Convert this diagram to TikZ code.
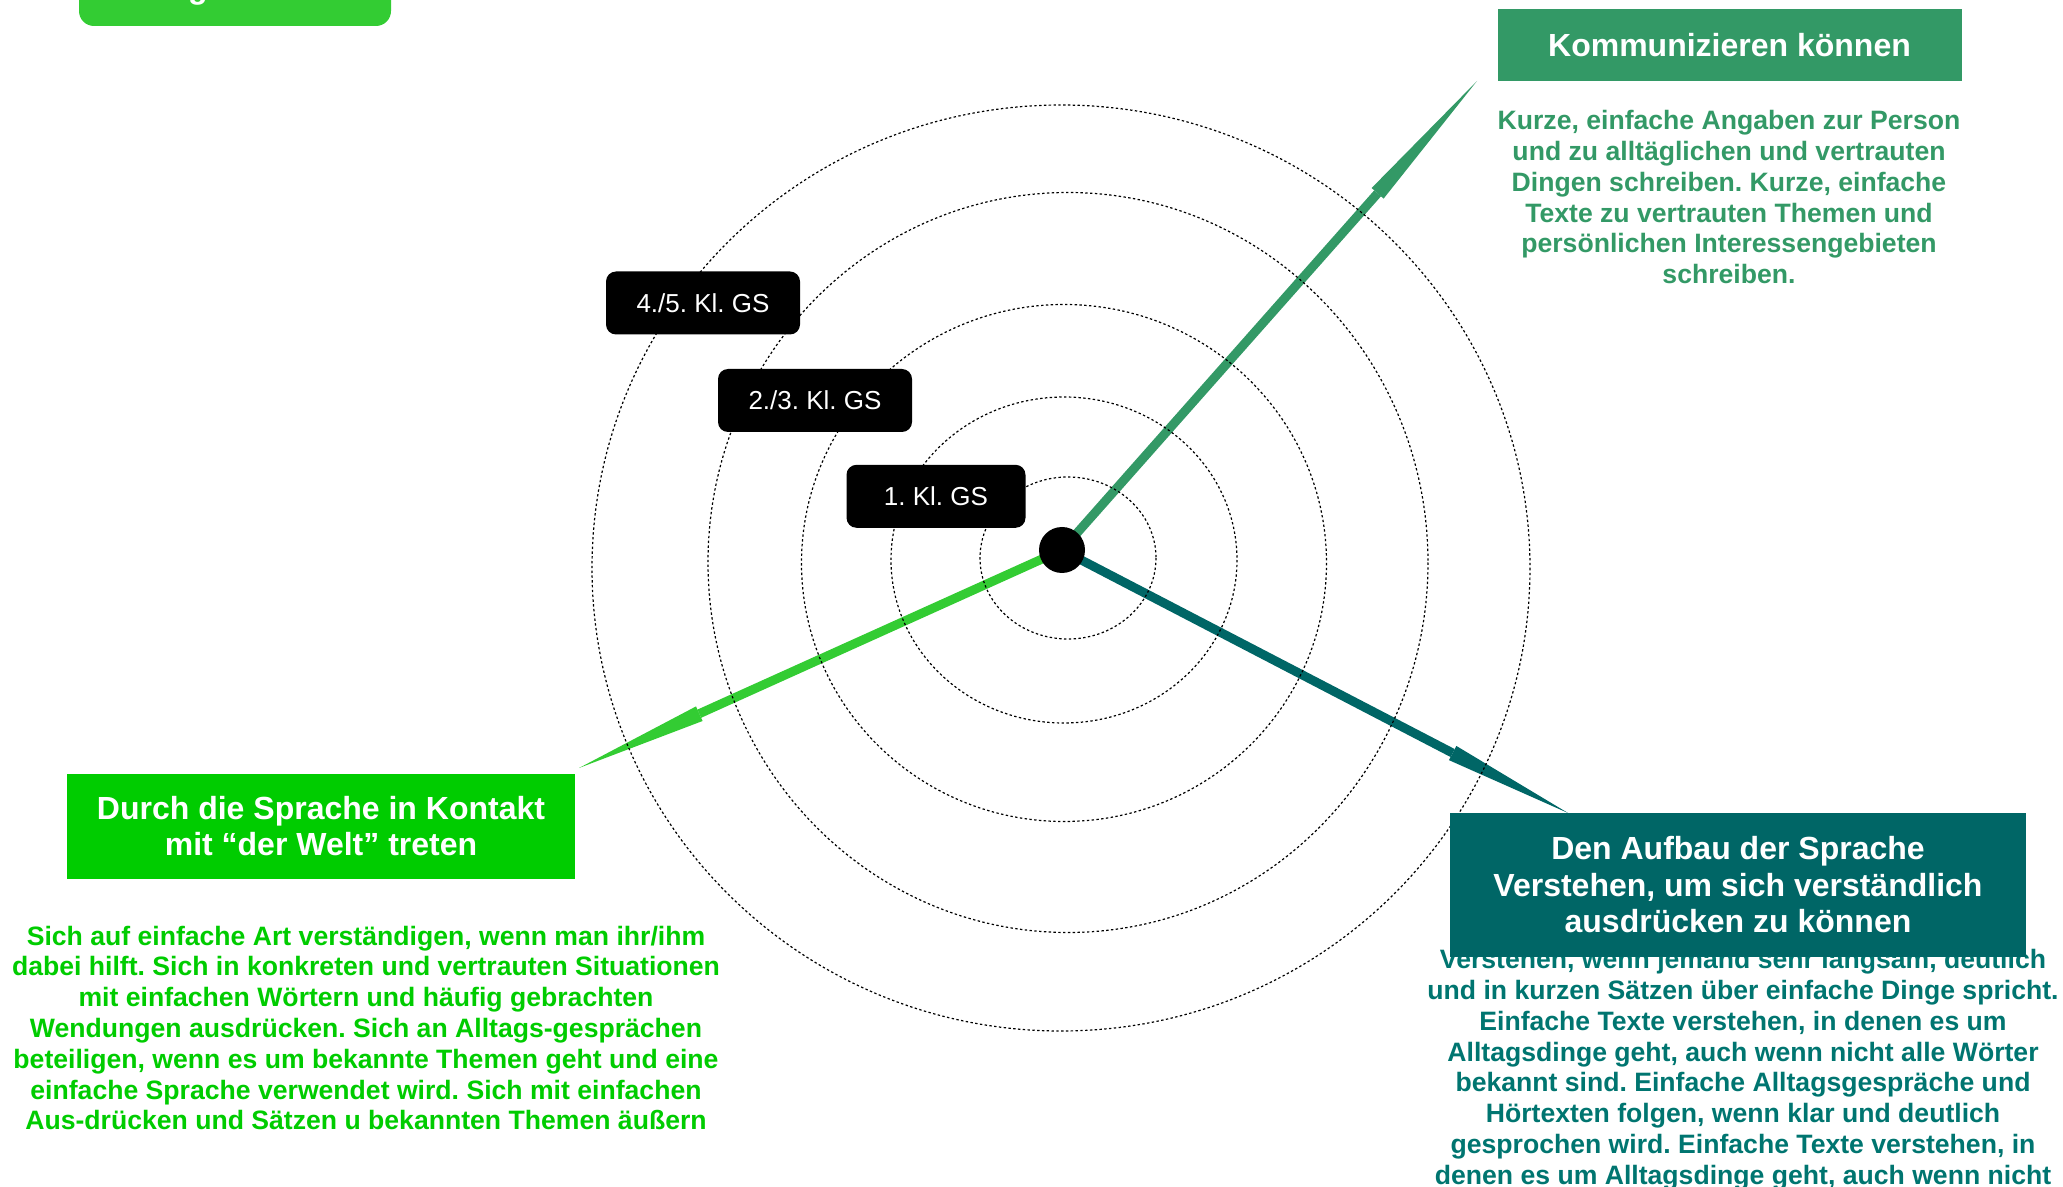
\documentclass[tikz,border=0pt]{standalone}
\usepackage{fontspec}
\setmainfont{Liberation Sans}
\usetikzlibrary{arrows.meta}
\frenchspacing

\definecolor{seagreen}{HTML}{339966}
\definecolor{leafgreen}{HTML}{33CC33}
\definecolor{brightgreen}{HTML}{00CC00}
\definecolor{darkteal}{HTML}{006666}
\definecolor{tealtext}{HTML}{007570}

\tikzset{
  ring/.style={draw=black, line width=0.6pt, dash pattern=on 1.2pt off 1.2pt},
  levelbox/.style={fill=black, text=white, rounded corners=5pt, inner sep=0pt,
    minimum height=31.5pt, font=\fontsize{13}{16}\selectfont},
  headbox/.style={text=white, align=center, inner sep=0pt,
    font=\fontsize{16}{18.2}\selectfont\bfseries},
  desc/.style={align=center, inner sep=0pt, anchor=north,
    font=\fontsize{13.3}{15.4}\selectfont\bfseries},
  spoke/.style={line width=4.5pt, -{Triangle[length=#1, width=8pt, line width=0pt]}},
}

\begin{document}
\begin{tikzpicture}[x=0.5pt, y=-0.5pt]
  \useasboundingbox (0,0) rectangle (2063,1187);

  % Heading box, cut by the top edge
  \fill[leafgreen, rounded corners=7.5pt] (79,-60) rectangle (391,26);
  \node[anchor=base, text=white, inner sep=0pt,
        font=\fontsize{16}{18}\selectfont\bfseries] (head) at (198,-1.5) {g};

  % Spokes from the hub
  \coordinate (hubc) at (1062,550);
  \coordinate (tipKom) at (1477,81);
  \coordinate (tipWelt) at (579,768);
  \coordinate (tipBau) at (1568,813);
  \draw[spoke=75pt, seagreen] (hubc) -- (tipKom);
  \draw[spoke=66pt, leafgreen] (hubc) -- (tipWelt);
  \draw[spoke=65pt, darkteal] (hubc) -- (tipBau);
  \node[circle, fill=black, minimum size=23pt, inner sep=0pt] (hub) at (hubc) {};

  % Rings
  \draw[ring] (1068,558) ellipse [x radius=88, y radius=81];
  \draw[ring] (1064,560) ellipse [x radius=173, y radius=163];
  \draw[ring] (1064,563) ellipse [x radius=262.5, y radius=258.5];
  \draw[ring] (1068,562.5) ellipse [x radius=360, y radius=370];
  \draw[ring] (1061,568) ellipse [x radius=469, y radius=463];

  % Class levels
  \node[levelbox, minimum width=97pt] (kl45) at (703,303) {4./5. Kl. GS};
  \node[levelbox, minimum width=97pt] (kl23) at (815,400.5) {2./3. Kl. GS};
  \node[levelbox, minimum width=89.5pt] (kl1) at (936,496.3) {1. Kl. GS};

  % Kommunizieren
  \node[headbox, fill=seagreen, minimum width=232pt, minimum height=36pt]
    (kom) at (1729.5,45.4) {Kommunizieren können};
  \node[desc, text=seagreen] (komtext) at (1729,110) {Kurze, einfache Angaben zur Person\\
    und zu alltäglichen und vertrauten\\
    Dingen schreiben. Kurze, einfache\\
    Texte zu vertrauten Themen und\\
    persönlichen Interessengebieten\\
    schreiben.};

  % Kontakt mit der Welt
  \node[headbox, fill=brightgreen, minimum width=254pt, minimum height=52.5pt]
    (welt) at (321,826.3) {Durch die Sprache in Kontakt\\mit “der Welt” treten};
  \node[desc, text=brightgreen] (welttext) at (366,925.5) {Sich auf einfache Art verständigen, wenn man ihr/ihm\\
    dabei hilft. Sich in konkreten und vertrauten Situationen\\
    mit einfachen Wörtern und häufig gebrachten\\
    Wendungen ausdrücken. Sich an Alltags-gesprächen\\
    beteiligen, wenn es um bekannte Themen geht und eine\\
    einfache Sprache verwendet wird. Sich mit einfachen\\
    Aus-drücken und Sätzen u bekannten Themen äußern};

  % Aufbau der Sprache (box lies over the first line)
  \node[desc, text=tealtext] (bautext) at (1743,949) {Verstehen, wenn jemand sehr langsam, deutlich\\
    und in kurzen Sätzen über einfache Dinge spricht.\\
    Einfache Texte verstehen, in denen es um\\
    Alltagsdinge geht, auch wenn nicht alle Wörter\\
    bekannt sind. Einfache Alltagsgespräche und\\
    Hörtexten folgen, wenn klar und deutlich\\
    gesprochen wird. Einfache Texte verstehen, in\\
    denen es um Alltagsdinge geht, auch wenn nicht};
  \node[headbox, fill=darkteal, minimum width=288pt, minimum height=71.75pt]
    (bau) at (1738,884.8) {Den Aufbau der Sprache\\Verstehen, um sich verständlich\\ausdrücken zu können};
\end{tikzpicture}
\end{document}
